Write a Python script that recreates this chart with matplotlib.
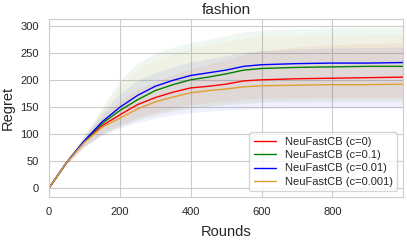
import numpy as np
import matplotlib.pyplot as plt
import seaborn as sns

sns.set_style("whitegrid")
plt.rcParams['font.family'] = ['Liberation Sans', 'DejaVu Sans']

# rounds at which the curves were read
rounds = [0, 50, 100, 150, 200, 250, 300, 350, 400, 450, 500, 550, 600, 700, 800, 900, 999]

# mean regret
red_mean = [0, 48, 86, 116, 136, 155, 168, 178, 186, 189, 193, 199, 201, 203, 204, 205, 206]
green_mean = [0, 48, 87, 120, 144, 164, 181, 192, 201, 206, 212, 219, 222, 224, 225, 226, 226]
blue_mean = [0, 48, 88, 123, 150, 172, 189, 200, 209, 214, 219, 226, 229, 231, 232, 232, 233]
orange_mean = [0, 48, 85, 113, 130, 147, 160, 169, 177, 181, 184, 188, 190, 191, 192, 192, 193]

# shaded bands (lower / upper)
red_lo = [0, 45, 78, 102, 118, 132, 141, 149, 155, 159, 162, 165, 167, 168, 168, 168, 168]
red_hi = [0, 51, 95, 135, 162, 183, 197, 210, 221, 230, 238, 248, 255, 262, 266, 268, 269]
green_lo = [0, 45, 78, 100, 115, 128, 137, 144, 149, 152, 155, 157, 159, 160, 160, 160, 160]
green_hi = [0, 52, 99, 150, 200, 232, 250, 262, 270, 276, 283, 290, 293, 296, 297, 298, 298]
blue_lo = [0, 45, 77, 98, 112, 122, 130, 136, 140, 143, 145, 147, 148, 149, 149, 149, 149]
blue_hi = [0, 51, 97, 140, 175, 200, 214, 225, 234, 240, 246, 252, 255, 258, 260, 261, 262]
orange_lo = [0, 45, 77, 100, 114, 126, 135, 142, 148, 152, 156, 159, 162, 164, 165, 165, 165]
orange_hi = [0, 51, 97, 145, 190, 220, 238, 250, 260, 266, 272, 278, 281, 283, 284, 285, 285]

labels = ["NeuFastCB (c=0)", "NeuFastCB (c=0.1)", "NeuFastCB (c=0.01)", "NeuFastCB (c=0.001)"]
colors = ["red", "green", "blue", "#e0a030"]
means = [red_mean, green_mean, blue_mean, orange_mean]
los = [red_lo, green_lo, blue_lo, orange_lo]
his = [red_hi, green_hi, blue_hi, orange_hi]

fig = plt.figure(figsize=(4.07, 2.42), dpi=100)
ax = fig.add_axes([0.12, 0.187, 0.870, 0.733])

for m, lo, hi, c, lab in zip(means, los, his, colors, labels):
    ax.fill_between(rounds, lo, hi, color=c, alpha=0.06, linewidth=0)
    ax.plot(rounds, m, color=c, lw=1.0, label=lab)

ax.set_xlim(0, 999)
ax.set_ylim(-15.6, 313)
ax.set_xticks([0, 200, 400, 600, 800])
ax.set_yticks([0, 50, 100, 150, 200, 250, 300])
ax.tick_params(labelsize=8, colors='#262626', pad=3.6)
ax.set_title("fashion", fontsize=11, pad=3.5)
ax.set_xlabel("Rounds", fontsize=10.5, labelpad=6)
ax.set_ylabel("Regret", fontsize=10.5, labelpad=4)
ax.legend(loc='lower right', fontsize=8, frameon=True, borderaxespad=0.5,
          handlelength=2.0, labelspacing=0.3)

fig.savefig("out.png", dpi=100)
